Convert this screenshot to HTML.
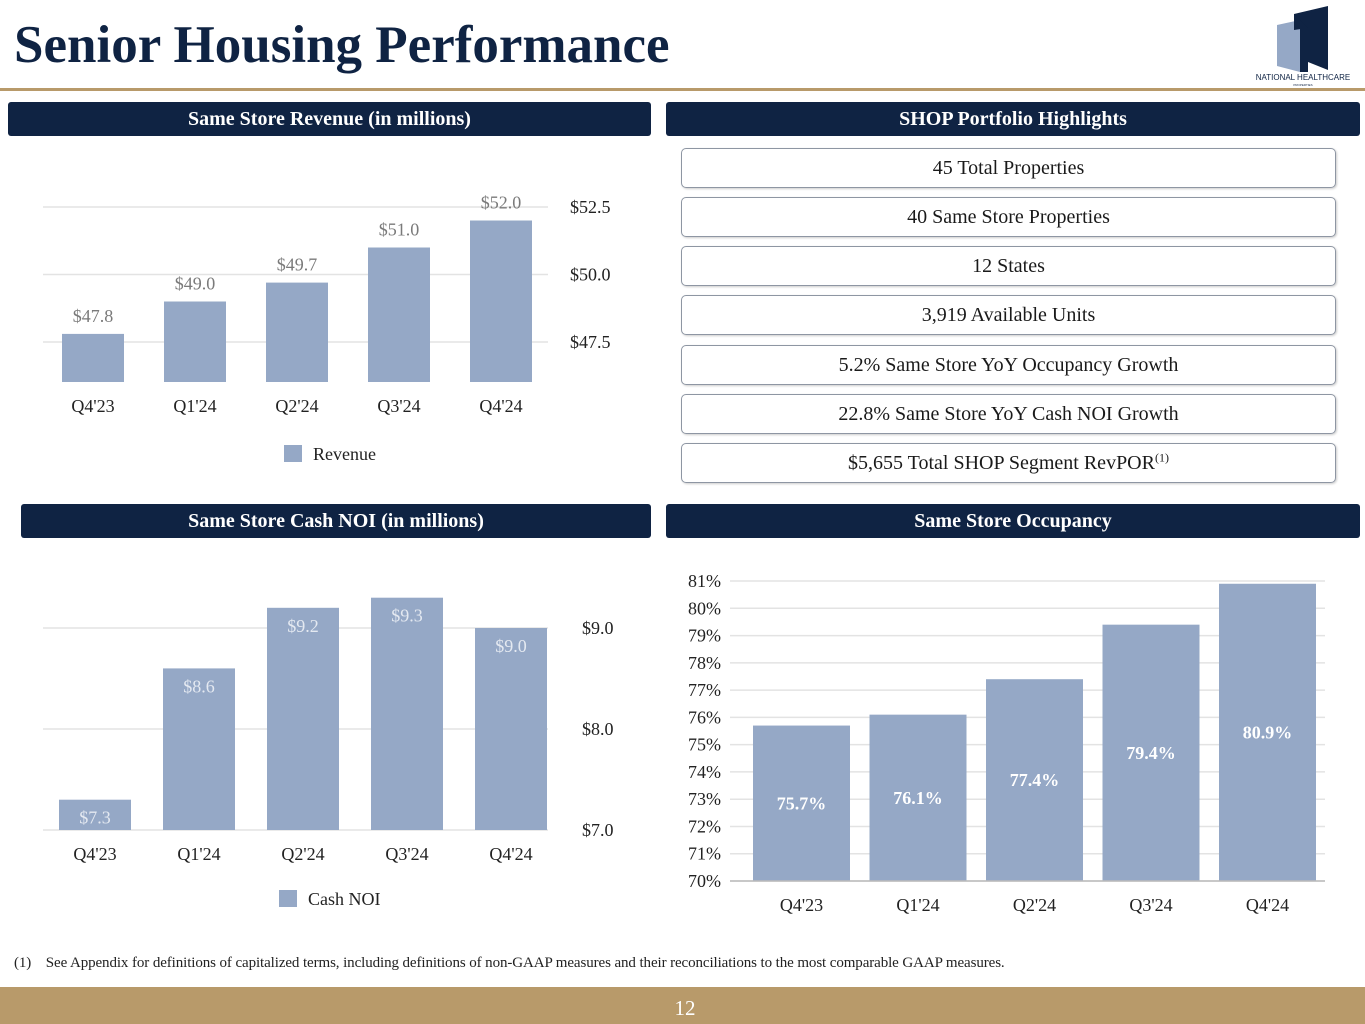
<!DOCTYPE html>
<html><head><meta charset="utf-8"><style>
body{margin:0;width:1365px;height:1024px;position:relative;background:#fff;font-family:"Liberation Serif",serif;overflow:hidden}
.abs{position:absolute}
.hdr{position:absolute;background:#0f2343;color:#fff;font-weight:bold;font-size:20px;text-align:center;line-height:34px;height:34px;border-radius:3px}
.box{position:absolute;left:681px;width:653px;height:38px;border:1.5px solid #8e96a3;border-radius:5px;text-align:center;line-height:38px;font-size:20px;color:#1a1a1a;box-shadow:1px 1px 2px #ccc}
svg text{font-family:"Liberation Serif",serif}
</style></head><body>
<div class="abs" style="left:14px;top:15px;font-size:53px;font-weight:bold;color:#0f2343">Senior Housing Performance</div>
<div class="abs" style="left:0;top:88px;width:1365px;height:3px;background:#b89a6a"></div>
<svg class="abs" style="left:1240px;top:0" width="125" height="90">
<polygon points="37,25 60,20 60,72 37,66" fill="#95a8c6"/>
<polygon points="54,14 88,6 88,70 68,62 68,28 54,30" fill="#0f2343"/>
<polygon points="60,20 68,28 68,72 60,72" fill="#0f2343"/>
<text x="63" y="80" font-size="8" text-anchor="middle" fill="#0f2343" style="font-family:'Liberation Sans',sans-serif">NATIONAL HEALTHCARE</text>
<text x="63" y="86" font-size="3" text-anchor="middle" fill="#0f2343" style="font-family:'Liberation Sans',sans-serif">PROPERTIES</text>
</svg>
<div class="hdr" style="left:8px;top:102px;width:643px">Same Store Revenue (in millions)</div>
<div class="hdr" style="left:666px;top:102px;width:694px">SHOP Portfolio Highlights</div>
<div class="hdr" style="left:21px;top:504px;width:630px">Same Store Cash NOI (in millions)</div>
<div class="hdr" style="left:666px;top:504px;width:694px">Same Store Occupancy</div>
<div class="box" style="top:148px">45 Total Properties</div>
<div class="box" style="top:197px">40 Same Store Properties</div>
<div class="box" style="top:246px">12 States</div>
<div class="box" style="top:295px">3,919 Available Units</div>
<div class="box" style="top:345px">5.2% Same Store YoY Occupancy Growth</div>
<div class="box" style="top:394px">22.8% Same Store YoY Cash NOI Growth</div>
<div class="box" style="top:443px">$5,655 Total SHOP Segment RevPOR<sup style="font-size:12px;line-height:0">(1)</sup></div>
<svg id="c" class="abs" style="left:0;top:0" width="1365" height="1024"></svg>
<div class="abs" style="left:14px;top:955px;font-size:15px;color:#222;letter-spacing:-0.1px">(1)&nbsp;&nbsp;&nbsp; See Appendix for definitions of capitalized terms, including definitions of non-GAAP measures and their reconciliations to the most comparable GAAP measures.</div>
<div class="abs" style="left:0;top:987px;width:1365px;height:37px;background:#b89a6a"></div>
<div class="abs" style="left:0;top:996px;width:1370px;text-align:center;color:#fff;font-size:21px">12</div>
<script>
const categories=["Q4'23","Q1'24","Q2'24","Q3'24","Q4'24"];
const revenueValues=[47.8,49.0,49.7,51.0,52.0];
const revenueTicks=[47.5,50.0,52.5];
const noiValues=[7.3,8.6,9.2,9.3,9.0];
const noiTicks=[7.0,8.0,9.0];
const occValues=[75.7,76.1,77.4,79.4,80.9];
const occTicks=[70,71,72,73,74,75,76,77,78,79,80,81];
const NS='http://www.w3.org/2000/svg';
const svg=document.getElementById('c');
function el(t,a,txt){const e=document.createElementNS(NS,t);for(const k in a)e.setAttribute(k,a[k]);if(txt!=null)e.textContent=txt;svg.appendChild(e);return e;}
function chart(o){
 const y=v=>o.y0-(v-o.v0)*o.ppu;
 o.ticks.forEach(t=>{
  const g=el('line',{x1:o.gx1,x2:o.gx2,y1:y(t),y2:y(t),stroke:'#e3e3e3','stroke-width':1.5});
  
  const l=el('text',{x:o.tx,y:y(t)+6,'font-size':18,fill:'#222','text-anchor':o.anchor},o.fmt(t));
  
 });
 o.values.forEach((v,i)=>{
  const x=o.bx+i*o.step;
  const r=el('rect',{x:x,y:y(v),width:o.bw,height:o.base-y(v),fill:'#95a8c6'});
  
  let ly=o.lab==='above'?y(v)-12:o.lab==='top'?y(v)+24:(y(v)+o.base)/2+6;
  const t=el('text',{x:x+o.bw/2,y:ly,'font-size':18,'text-anchor':'middle',fill:o.lab==='above'?'#7a7a7a':(o.lab==='mid'?'#fff':'#e4e9f1'),'font-weight':o.lab==='mid'?'bold':'normal'},o.vfmt(v));
  
  const c=el('text',{x:x+o.bw/2,y:o.cy,'font-size':18,'text-anchor':'middle',fill:'#222'},categories[i]);
  
 });
}
chart({name:'revenue',values:revenueValues,ticks:revenueTicks,v0:47.5,y0:342,ppu:27,base:382,gx1:43,gx2:548,tx:570,anchor:'start',bx:62,bw:62,step:102,cy:412,lab:'above',fmt:t=>'$'+t.toFixed(1),vfmt:v=>'$'+v.toFixed(1)});
chart({name:'cash-noi',values:noiValues,ticks:noiTicks,v0:7.0,y0:830,ppu:101,base:830,gx1:43,gx2:548,tx:582,anchor:'start',bx:59,bw:72,step:104,cy:860,lab:'top',fmt:t=>'$'+t.toFixed(1),vfmt:v=>'$'+v.toFixed(1)});
chart({name:'occupancy',values:occValues,ticks:occTicks,v0:70,y0:881,ppu:27.27,base:881,gx1:730,gx2:1325,tx:721,anchor:'end',bx:753,bw:97,step:116.5,cy:911,lab:'mid',fmt:t=>t+'%',vfmt:v=>v.toFixed(1)+'%'});
const ax=el('line',{x1:730,x2:1325,y1:881,y2:881,stroke:'#bbb','stroke-width':1.5});

const lg1=el('rect',{x:284,y:445,width:18,height:17,fill:'#95a8c6'});

const lt1=el('text',{x:313,y:460,'font-size':18,fill:'#222'},'Revenue');

const lg2=el('rect',{x:279,y:890,width:18,height:17,fill:'#95a8c6'});

const lt2=el('text',{x:308,y:905,'font-size':18,fill:'#222'},'Cash NOI');

</script>
</body></html>
